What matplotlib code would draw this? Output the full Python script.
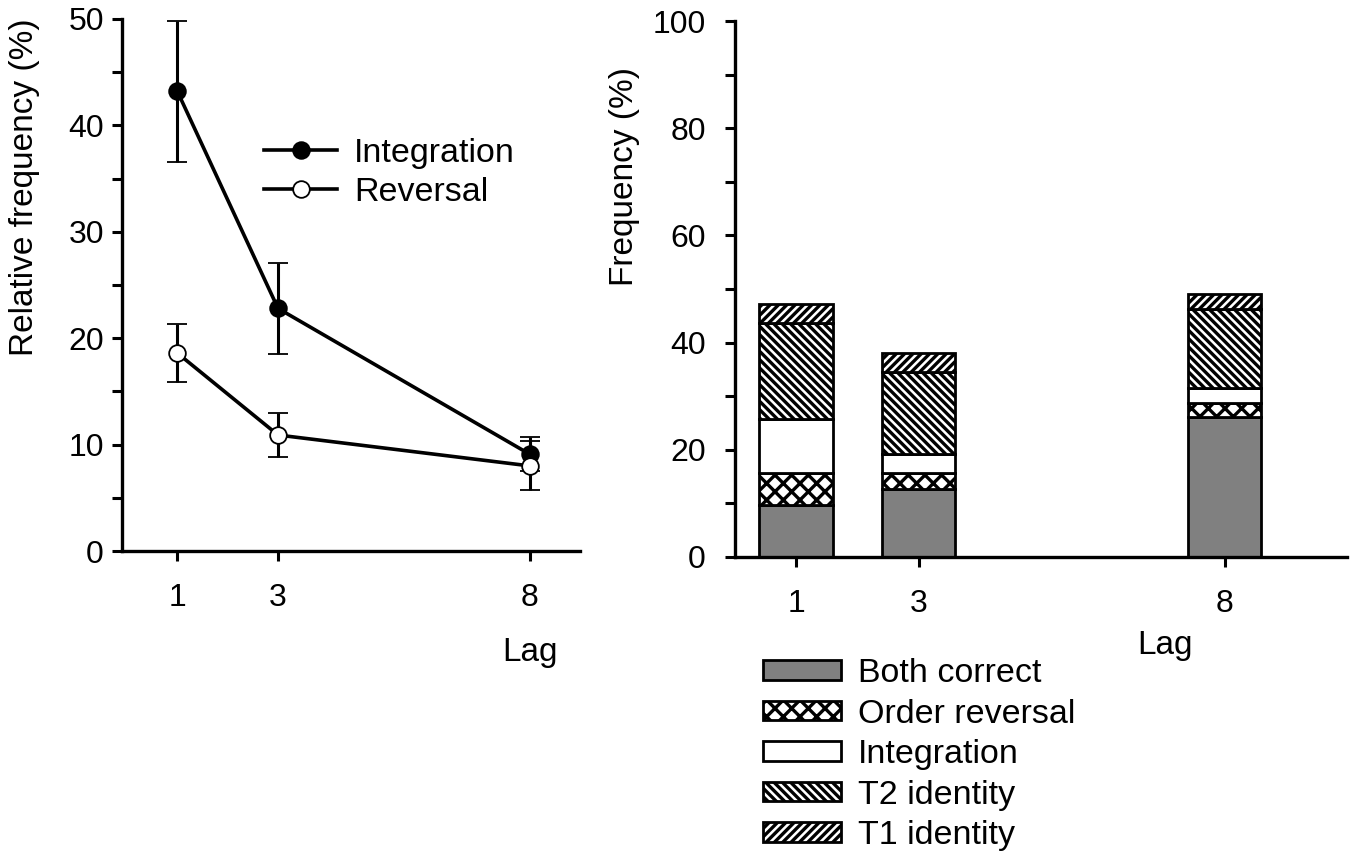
import numpy as np
import matplotlib
matplotlib.use("Agg")
import matplotlib.pyplot as plt
from matplotlib.ticker import MultipleLocator
from matplotlib.lines import Line2D

plt.rcParams['font.family'] = ['Liberation Sans', 'DejaVu Sans']
plt.rcParams['hatch.linewidth'] = 2.4

# left panel: relative frequency by lag
lags = [1, 3, 8]
integ_mean = [43.2, 22.8, 9.1]
integ_err = [6.6, 4.3, 1.6]
rev_mean = [18.6, 10.9, 8.0]
rev_err = [2.7, 2.1, 2.3]

# right panel: stacked response categories
categories = ["Both correct", "Order reversal", "Integration", "T2 identity", "T1 identity"]
both_correct = [9.7, 12.7, 26.2]
order_reversal = [6.0, 3.0, 2.5]
integration = [10.0, 3.5, 2.8]
t2_identity = [17.9, 15.3, 14.8]
t1_identity = [3.6, 3.5, 2.8]

fig = plt.figure(figsize=(13.57, 8.55), dpi=100)

W, H = 1357, 855
ax1 = fig.add_axes([122 / W, 1 - 551 / H, 458 / W, 532 / H])
ax2 = fig.add_axes([735 / W, 1 - 557 / H, 612 / W, 536 / H])

lw = 2.6
ms = 12

# ---- left panel
ax1.errorbar(lags, integ_mean, yerr=integ_err, color='black', lw=lw, elinewidth=2.2,
             capsize=7, capthick=2.2, marker='o', ms=ms, mfc='black', mec='black',
             mew=1.3, zorder=3)
ax1.errorbar(lags, rev_mean, yerr=rev_err, color='black', lw=lw, elinewidth=2.2,
             capsize=7, capthick=2.2, marker='o', ms=ms, mfc='white', mec='black',
             mew=1.3, zorder=3)
ax1.set_xlim(-0.1, 9)
ax1.set_ylim(0, 50)
ax1.set_xticks(lags)
ax1.yaxis.set_major_locator(MultipleLocator(10))
ax1.yaxis.set_minor_locator(MultipleLocator(5))
ax1.set_ylabel("Relative frequency (%)", fontsize=24)
ax1.yaxis.set_label_coords(-0.18, 0.684)
ax1.text(0.891, -0.19, "Lag", transform=ax1.transAxes, fontsize=24,
         ha='center', va='center')
h1 = [Line2D([], [], color='black', lw=lw, marker='o', ms=ms, mfc='black', mec='black', mew=1.3),
      Line2D([], [], color='black', lw=lw, marker='o', ms=ms, mfc='white', mec='black', mew=1.3)]
ax1.legend(h1, ["Integration", "Reversal"], loc='upper left',
           bbox_to_anchor=(0.31, 0.777), frameon=False,
           fontsize=24.5, handlelength=2.15, handletextpad=0.5,
           labelspacing=0.25, borderaxespad=0, borderpad=0)

# ---- right panel
x = np.array(lags)
bw = 1.2
stack = [both_correct, order_reversal, integration, t2_identity, t1_identity]
faces = ['#808080', 'white', 'white', 'white', 'white']
hatches = [None, 'xx', None, '\\\\\\\\', '////']
bottom = np.zeros(3)
handles = []
for vals, fc, h, lab in zip(stack, faces, hatches, categories):
    b = ax2.bar(x, vals, bw, bottom=bottom, color=fc, edgecolor='black',
                linewidth=2.0, hatch=h, label=lab, zorder=2)
    handles.append(b)
    bottom = bottom + np.array(vals)
ax2.set_xlim(0, 10)
ax2.set_ylim(0, 100)
ax2.set_xticks(lags)
ax2.yaxis.set_major_locator(MultipleLocator(20))
ax2.yaxis.set_minor_locator(MultipleLocator(10))
ax2.set_ylabel("Frequency (%)", fontsize=24)
ax2.yaxis.set_label_coords(-0.155, 0.709)
ax2.text(0.703, -0.165, "Lag", transform=ax2.transAxes, fontsize=24,
         ha='center', va='center')
fig.legend(handles=handles, labels=categories, loc='upper left',
           bbox_to_anchor=(763 / W, 1 - 658 / H), frameon=False, fontsize=24.5,
           handlelength=2.3, handleheight=0.5, handletextpad=0.5,
           labelspacing=0.28, borderaxespad=0, borderpad=0)

for ax in (ax1, ax2):
    for s in ('top', 'right'):
        ax.spines[s].set_visible(False)
    for s in ('left', 'bottom'):
        ax.spines[s].set_linewidth(2.4)
    ax.tick_params(axis='both', which='both', direction='out', width=2.2,
                   length=7, labelsize=23, color='black')
    ax.tick_params(axis='x', pad=16)
ax1.tick_params(axis='y', pad=6)
ax2.tick_params(axis='y', pad=14)

fig.savefig("out.png", dpi=100)
